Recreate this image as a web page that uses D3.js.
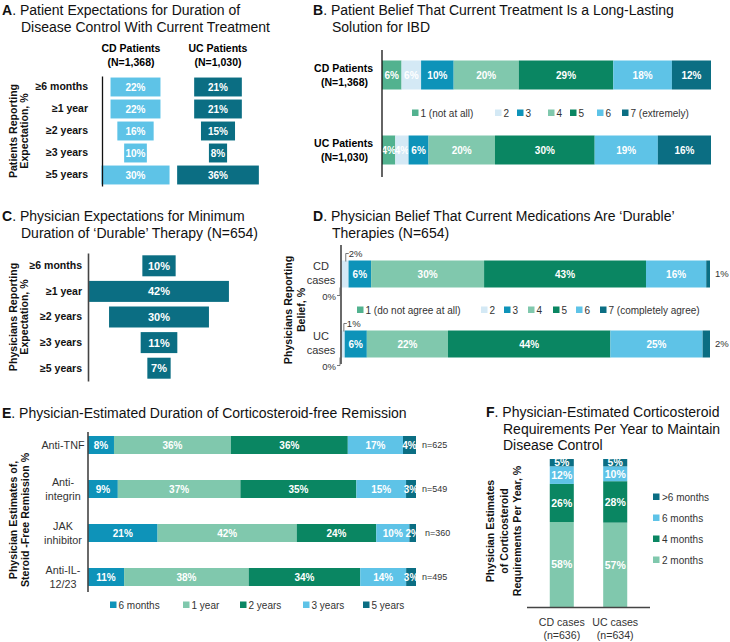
<!DOCTYPE html>
<html>
<head>
<meta charset="utf-8">
<script src="https://cdn.jsdelivr.net/npm/d3@7"></script>
<style>
  body { margin: 0; background: #fff; }
  svg { font-family: "Liberation Sans", Arial, sans-serif; }
</style>
</head>
<body>
<svg width="730" height="642"></svg>
<script>
// ---- data ----
var durRows = ["≥6 months", "≥1 year", "≥2 years", "≥3 years", "≥5 years"];
var aCD = [22, 22, 16, 10, 30];
var aUC = [21, 21, 15, 8, 36];

var bCats = ["1 (not at all)", "2", "3", "4", "5", "6", "7 (extremely)"];
var bGroups = ["CD", "UC"];
var bCD = [6, 6, 10, 20, 29, 18, 12];
var bUC = [4, 4, 6, 20, 30, 19, 16];

var cVals = [10, 42, 30, 11, 7];

var dCats = ["1 (do not agree at all)", "2", "3", "4", "5", "6", "7 (completely agree)"];
var dCD = [0, 2, 6, 30, 43, 16, 1];
var dUC = [0, 1, 6, 22, 44, 25, 2];

var eRows = ["Anti-TNF", "Anti-integrin", "JAK inhibitor", "Anti-IL-12/23"];
var eRowLines = [["Anti-TNF"], ["Anti-", "integrin"], ["JAK", "inhibitor"], ["Anti-IL-", "12/23"]];
var eCats = ["6 months", "1 year", "2 years", "3 years", "5 years"];
var eSixMonths = [8, 9, 21, 11];
var eOneYear = [36, 37, 42, 38];
var eTwoYears = [36, 35, 24, 34];
var eThreeYears = [17, 15, 10, 14];
var eFiveYears = [4, 3, 2, 3];
var eN = ["n=625", "n=549", "n=360", "n=495"];

var fCats = ["2 months", "4 months", "6 months", ">6 months"];
var fGroups = ["CD cases", "UC cases"];
var fGroupN = ["(n=636)", "(n=634)"];
var fCD = [58, 26, 12, 5];
var fUC = [57, 28, 10, 5];

// colours
var teal = "#0b6e83", light = "#5ec3e7", blue = "#0e93b9", mint = "#80c8ad",
    dgreen = "#0a8662", green1 = "#52b28f", pale = "#d4e9f5";

var svg = d3.select("svg");

function title(x, y, letter, lines, indent, gap) {
  var t = svg.append("text").attr("x", x).attr("y", y)
      .style("font-size", "14px").attr("fill", "#111");
  t.append("tspan").style("font-weight", "bold").text(letter);
  t.append("tspan").text(lines[0]);
  lines.slice(1).forEach(function(l, i) {
    svg.append("text").attr("x", x + indent).attr("y", y + (gap || 17) * (i + 1))
        .style("font-size", "14px").attr("fill", "#111").text(l);
  });
}

function yTitle(cx, cy, lines, gap) {
  var g = svg.append("g").attr("transform", "translate(" + cx + "," + cy + ") rotate(-90)");
  lines.forEach(function(l, i) {
    g.append("text").attr("x", 0).attr("y", (i - (lines.length - 1) / 2) * gap)
        .attr("dy", "0.35em").attr("text-anchor", "middle")
        .style("font-size", "10.6px").style("font-weight", "bold").attr("fill", "#111").text(l);
  });
}

function pct(sel, x, y, txt, size) {
  sel.append("text").attr("x", x).attr("y", y).attr("dy", "0.36em")
      .attr("text-anchor", "middle").style("font-size", (size || 10) + "px")
      .style("font-weight", "bold").attr("fill", "#fff").text(txt);
}

function legendRow(items, colors, xs, y) {
  items.forEach(function(c, i) {
    svg.append("rect").attr("x", xs[i]).attr("y", y - 3.5).attr("width", 6.5).attr("height", 6.5).attr("fill", colors[i]);
    svg.append("text").attr("x", xs[i] + 8.5).attr("y", y).attr("dy", "0.35em")
        .style("font-size", "10px").attr("fill", "#333").text(c);
  });
}

// ================= A =================
title(2, 15, "A", [". Patient Expectations for Duration of", "Disease Control With Current Treatment"], 19);

var aY = d3.scaleBand().domain(durRows).range([76, 186]).paddingInner(0.14).paddingOuter(0.07);
var aW = d3.scaleLinear().domain([0, 100]).range([0, 227]);
var aCols = [{name: "CD Patients", n: "(N=1,368)", cx: 135.5, hx: 131, vals: aCD, color: light},
             {name: "UC Patients", n: "(N=1,030)", cx: 218, hx: 218, vals: aUC, color: teal}];
var gA = svg.append("g");
aCols.forEach(function(col) {
  gA.append("text").attr("x", col.hx).attr("y", 52).attr("text-anchor", "middle")
      .style("font-size", "10.5px").style("font-weight", "bold").text(col.name);
  gA.append("text").attr("x", col.hx).attr("y", 66).attr("text-anchor", "middle")
      .style("font-size", "10.5px").style("font-weight", "bold").text(col.n);
  durRows.forEach(function(r, i) {
    var w = aW(col.vals[i]);
    gA.append("rect").attr("x", col.cx - w / 2).attr("y", aY(r))
        .attr("width", w).attr("height", aY.bandwidth()).attr("fill", col.color);
    pct(gA, col.cx, aY(r) + aY.bandwidth() / 2, col.vals[i] + "%");
  });
});
gA.append("g").attr("transform", "translate(102,0)")
    .call(d3.axisLeft(aY).tickSize(0).tickPadding(14))
    .call(function(g) {
      g.select(".domain").attr("stroke", "#111").attr("stroke-width", 1.3);
      g.selectAll("text").style("font-size", "10.5px").style("font-weight", "bold")
          .style("font-family", "Liberation Sans, Arial").attr("fill", "#111");
    });
yTitle(19, 131, ["Patients Reporting", "Expectation, %"], 11);

// ================= B =================
title(313, 15, "B", [". Patient Belief That Current Treatment Is a Long-Lasting", "Solution for IBD"], 19);
var bColors = [green1, pale, blue, mint, dgreen, light, teal];
var bRowsData = [bCD, bUC].map(function(v, i) {
  var o = {group: bGroups[i]};
  bCats.forEach(function(c, j) { o[c] = v[j]; });
  return o;
});
var bStack = d3.stack().keys(bCats).offset(d3.stackOffsetExpand)(bRowsData);
var bX = d3.scaleLinear().domain([0, 1]).range([382, 711]);
var bY = d3.scalePoint().domain(bGroups).range([75, 150]);
var bH = 29;
var gB = svg.append("g");
bStack.forEach(function(layer, j) {
  layer.forEach(function(d, i) {
    gB.append("rect").attr("x", bX(d[0])).attr("y", bY(bGroups[i]) - bH / 2)
        .attr("width", bX(d[1]) - bX(d[0])).attr("height", bH).attr("fill", bColors[j]);
    pct(gB, (bX(d[0]) + bX(d[1])) / 2, bY(bGroups[i]), d.data[bCats[j]] + "%");
  });
});
gB.append("line").attr("x1", 382).attr("x2", 382).attr("y1", 50).attr("y2", 177)
    .attr("stroke", "#111").attr("stroke-width", 1.3);
[["CD Patients", "(N=1,368)"], ["UC Patients", "(N=1,030)"]].forEach(function(l, i) {
  var y = bY(bGroups[i]);
  gB.append("text").attr("x", 373).attr("y", y - 7).attr("dy", "0.35em").attr("text-anchor", "end")
      .style("font-size", "10.5px").style("font-weight", "bold").text(l[0]);
  gB.append("text").attr("x", 368).attr("y", y + 7).attr("dy", "0.35em").attr("text-anchor", "end")
      .style("font-size", "10.5px").style("font-weight", "bold").text(l[1]);
});
legendRow(bCats, bColors, [412, 495, 517, 548, 570, 597, 622], 113);

// ================= C =================
title(2, 221, "C", [". Physician Expectations for Minimum", "Duration of \u2018Durable\u2019 Therapy (N=654)"], 19);
var cY = d3.scaleBand().domain(durRows).range([253, 381]).paddingInner(0.18).paddingOuter(0.09);
var cW = d3.scaleLinear().domain([0, 100]).range([0, 333]);
var gC = svg.append("g");
durRows.forEach(function(r, i) {
  var w = cW(cVals[i]);
  gC.append("rect").attr("x", 159 - w / 2).attr("y", cY(r)).attr("width", w)
      .attr("height", cY.bandwidth()).attr("fill", teal);
  pct(gC, 159, cY(r) + cY.bandwidth() / 2, cVals[i] + "%", 11);
});
gC.append("g").attr("transform", "translate(88,0)")
    .call(d3.axisLeft(cY).tickSize(0).tickPadding(6))
    .call(function(g) {
      g.select(".domain").attr("stroke", "#444").attr("stroke-width", 1.6);
      g.selectAll("text").style("font-size", "10.5px").style("font-weight", "bold")
          .style("font-family", "Liberation Sans, Arial").attr("fill", "#111");
    });
yTitle(19, 317, ["Physicians Reporting", "Expectation, %"], 11);

// ================= D =================
title(313, 221, "D", [". Physician Belief That Current Medications Are \u2018Durable\u2019", "Therapies (N=654)"], 19);
var dColors = [green1, pale, blue, mint, dgreen, light, teal];
var dRowsData = [dCD, dUC].map(function(v, i) {
  var o = {group: bGroups[i]};
  dCats.forEach(function(c, j) { o[c] = v[j]; });
  return o;
});
var dStack = d3.stack().keys(dCats).offset(d3.stackOffsetExpand)(dRowsData);
var dX = d3.scaleLinear().domain([0, 1]).range([341, 710]);
var dY = d3.scalePoint().domain(bGroups).range([274, 344]);
var dH = 27;
var gD = svg.append("g");
dStack.forEach(function(layer, j) {
  layer.forEach(function(d, i) {
    var w = dX(d[1]) - dX(d[0]);
    gD.append("rect").attr("x", dX(d[0])).attr("y", dY(bGroups[i]) - dH / 2)
        .attr("width", w).attr("height", dH).attr("fill", dColors[j]);
    if (d.data[dCats[j]] >= 5) pct(gD, (dX(d[0]) + dX(d[1])) / 2, dY(bGroups[i]), d.data[dCats[j]] + "%");
  });
});
gD.append("line").attr("x1", 341).attr("x2", 341).attr("y1", 245).attr("y2", 364)
    .attr("stroke", "#444").attr("stroke-width", 1.6);
// small-value callouts
[[dCD, "CD"], [dUC, "UC"]].forEach(function(p, i) {
  var y = dY(bGroups[i]), v = p[0];
  var top = y - dH / 2, bot = y + dH / 2;
  var mid2 = (dX(dStack[1][i][0]) + dX(dStack[1][i][1])) / 2 + 1;
  gD.append("path").attr("d", "M" + mid2 + "," + (top + 1) + "V" + (top - 7) + "h3")
      .attr("fill", "none").attr("stroke", "#555").attr("stroke-width", 0.8);
  gD.append("text").attr("x", mid2 + 3).attr("y", top - 7).attr("dy", "0.35em")
      .style("font-size", "9.5px").attr("fill", "#333").text(v[1] + "%");
  gD.append("path").attr("d", "M" + (dX(0) - 1) + "," + bot + "V" + (bot + 8) + "h-3")
      .attr("fill", "none").attr("stroke", "#555").attr("stroke-width", 0.8);
  gD.append("text").attr("x", dX(0) - 5).attr("y", bot + 9).attr("dy", "0.35em").attr("text-anchor", "end")
      .style("font-size", "9.5px").attr("fill", "#333").text(v[0] + "%");
  gD.append("text").attr("x", 715).attr("y", y).attr("dy", "0.35em")
      .style("font-size", "9.5px").attr("fill", "#333").text(v[6] + "%");
  gD.append("text").attr("x", 321).attr("y", y - 8).attr("dy", "0.35em").attr("text-anchor", "middle")
      .style("font-size", "11px").attr("fill", "#333").text(p[1]);
  gD.append("text").attr("x", 321).attr("y", y + 6).attr("dy", "0.35em").attr("text-anchor", "middle")
      .style("font-size", "11px").attr("fill", "#333").text("cases");
});
legendRow(dCats, dColors, [357, 481, 504, 528, 553, 576, 600], 310);
yTitle(295, 310, ["Physicians Reporting", "Belief, %"], 13);

// ================= E =================
title(2, 418, "E", [". Physician-Estimated Duration of Corticosteroid-free Remission"], 0);
var eColors = [blue, mint, dgreen, light, teal];
var eTable = eRows.map(function(r, i) {
  return {row: r, "6 months": eSixMonths[i], "1 year": eOneYear[i], "2 years": eTwoYears[i],
          "3 years": eThreeYears[i], "5 years": eFiveYears[i]};
});
var eStack = d3.stack().keys(eCats).offset(d3.stackOffsetExpand)(eTable);
var eX = d3.scaleLinear().domain([0, 1]).range([88, 416]);
var eY = d3.scalePoint().domain(eRows).range([445, 577]);
var eH = 18;
var gE = svg.append("g");
eStack.forEach(function(layer, j) {
  layer.forEach(function(d, i) {
    gE.append("rect").attr("x", eX(d[0])).attr("y", eY(eRows[i]) - eH / 2)
        .attr("width", eX(d[1]) - eX(d[0])).attr("height", eH).attr("fill", eColors[j]);
  });
});
eStack.forEach(function(layer, j) {
  layer.forEach(function(d, i) {
    pct(gE, (eX(d[0]) + eX(d[1])) / 2, eY(eRows[i]), d.data[eCats[j]] + "%");
  });
});
// white labels past the bar end stay hidden on the page
gE.append("rect").attr("x", 416.5).attr("y", 430).attr("width", 5).attr("height", 160).attr("fill", "#fff");
gE.append("line").attr("x1", 88).attr("x2", 88).attr("y1", 432).attr("y2", 592)
    .attr("stroke", "#444").attr("stroke-width", 1.6);
eRows.forEach(function(r, i) {
  var lines = eRowLines[i], y = eY(r);
  lines.forEach(function(l, k) {
    gE.append("text").attr("x", 63).attr("y", y + (k - (lines.length - 1) / 2) * 13.5)
        .attr("dy", "0.35em").attr("text-anchor", "middle")
        .style("font-size", "10.8px").attr("fill", "#333").text(l);
  });
  gE.append("text").attr("x", i == 2 ? 425 : 422).attr("y", y).attr("dy", "0.35em")
      .style("font-size", "9px").attr("fill", "#333").text(eN[i]);
});
legendRow(eCats, eColors, [110, 183, 240, 303, 363], 605);
yTitle(19, 520, ["Physician Estimates of,", "Steroid -Free Remission %"], 12);

// ================= F =================
title(486, 417, "F", [". Physician-Estimated Corticosteroid", "Requirements Per Year to Maintain", "Disease Control"], 17, 16.5);
var fColors = [mint, dgreen, light, teal];
var fTable = [fCD, fUC].map(function(v, i) {
  var o = {group: fGroups[i]};
  fCats.forEach(function(c, j) { o[c] = v[j]; });
  return o;
});
var fStack = d3.stack().keys(fCats).offset(d3.stackOffsetExpand)(fTable);
var fX = d3.scaleBand().domain(fGroups).range([530, 647]).paddingInner(0.55).paddingOuter(0.37);
var fY = d3.scaleLinear().domain([0, 1]).range([607, 459]);
var gF = svg.append("g");
fStack.forEach(function(layer, j) {
  layer.forEach(function(d, i) {
    gF.append("rect").attr("x", fX(fGroups[i])).attr("y", fY(d[1]))
        .attr("width", fX.bandwidth()).attr("height", fY(d[0]) - fY(d[1])).attr("fill", fColors[j]);
    pct(gF, fX(fGroups[i]) + fX.bandwidth() / 2, (fY(d[0]) + fY(d[1])) / 2, d.data[fCats[j]] + "%", 10.5);
  });
});
gF.append("line").attr("x1", 527).attr("x2", 650).attr("y1", 607.5).attr("y2", 607.5)
    .attr("stroke", "#444").attr("stroke-width", 1.4);
fGroups.forEach(function(g, i) {
  var cx = fX(g) + fX.bandwidth() / 2;
  gF.append("text").attr("x", cx).attr("y", 622).attr("dy", "0.35em").attr("text-anchor", "middle")
      .style("font-size", "10.6px").attr("fill", "#333").text(g);
  gF.append("text").attr("x", cx).attr("y", 635).attr("dy", "0.35em").attr("text-anchor", "middle")
      .style("font-size", "10.6px").attr("fill", "#333").text(fGroupN[i]);
});
fCats.slice().reverse().forEach(function(c, i) {
  var y = 497 + i * 21;
  gF.append("rect").attr("x", 653).attr("y", y - 3.5).attr("width", 6.5).attr("height", 6.5)
      .attr("fill", fColors[fCats.length - 1 - i]);
  gF.append("text").attr("x", 662).attr("y", y).attr("dy", "0.35em")
      .style("font-size", "10px").attr("fill", "#333").text(c);
});
yTitle(504, 531, ["Physician Estimates", "of Corticosteroid", "Requirements Per Year, %"], 13.5);
</script>
</body>
</html>
